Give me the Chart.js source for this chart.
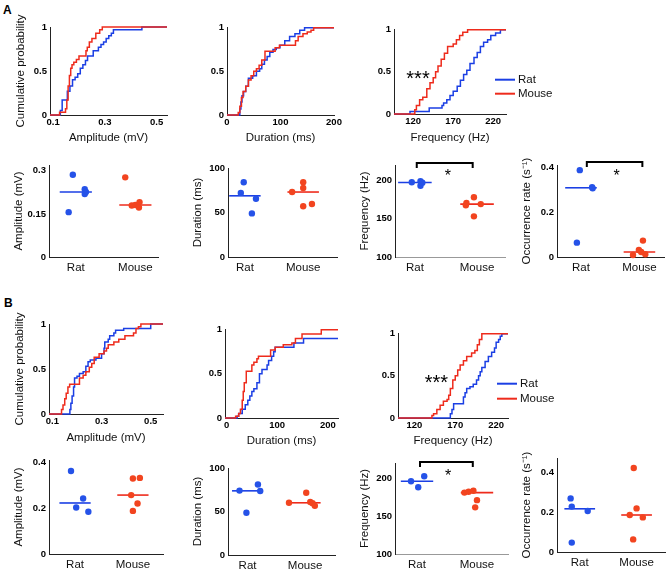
<!DOCTYPE html>
<html>
<head>
<meta charset="utf-8">
<script src="https://cdn.jsdelivr.net/npm/chart.js@4.4.0/dist/chart.umd.min.js"></script>
<style>
  body { margin: 0; background: #fff; width: 669px; height: 573px; position: relative; overflow: hidden; font-family: "Liberation Sans", Arial, sans-serif; }
  canvas { position: absolute; }
  .tag { position: absolute; font-weight: bold; font-size: 12px; }
</style>
</head>
<body>
<div class="tag" style="left:3px;top:3px">A</div>
<div class="tag" style="left:4px;top:296px">B</div>
<script>
const groups = ["Rat", "Mouse"];

// tick values
const cdfTicks = [0, 0.5, 1];
const ampTicks = [0.1, 0.3, 0.5];
const durTicks = [0, 100, 200];
const freqTicks = [120, 170, 220];
const groupTicks = [1, 2];
const ampA_ticks = [0, 0.15, 0.3];
const ampB_ticks = [0, 0.2, 0.4];
const durScTicks = [0, 50, 100];
const freqScTicks = [100, 150, 200];
const occTicks = [0, 0.2, 0.4];

// A: cumulative distributions (x = value, p = cumulative probability)
const ampA_ratX = [0.088, 0.128, 0.135, 0.155, 0.165, 0.175, 0.185, 0.195, 0.205, 0.215, 0.225, 0.233, 0.255, 0.275, 0.285, 0.295, 0.305, 0.315, 0.325, 0.333, 0.443, 0.54];
const ampA_ratP = [0, 0.05, 0.17, 0.27, 0.33, 0.4, 0.43, 0.47, 0.53, 0.57, 0.62, 0.67, 0.73, 0.77, 0.8, 0.83, 0.87, 0.9, 0.93, 0.97, 1, 1];
const ampA_mouseX = [0.088, 0.125, 0.148, 0.153, 0.158, 0.163, 0.168, 0.173, 0.18, 0.19, 0.2, 0.227, 0.232, 0.24, 0.25, 0.265, 0.28, 0.29, 0.54];
const ampA_mouseP = [0, 0.03, 0.07, 0.17, 0.33, 0.45, 0.53, 0.57, 0.6, 0.63, 0.67, 0.73, 0.77, 0.83, 0.87, 0.93, 0.97, 1, 1];

const durA_ratX = [0, 24, 26, 28, 31, 35, 40, 48, 55, 61, 65, 70, 75, 80, 86, 92, 99, 108, 117, 127, 136, 145, 200];
const durA_ratP = [0, 0.07, 0.15, 0.22, 0.27, 0.33, 0.42, 0.45, 0.5, 0.53, 0.58, 0.63, 0.67, 0.72, 0.75, 0.77, 0.8, 0.85, 0.9, 0.93, 0.97, 1, 1];
const durA_mouseX = [0, 21, 24, 27, 30, 35, 40, 45, 50, 55, 60, 65, 71, 90, 98, 128, 133, 142, 150, 157, 162, 200];
const durA_mouseP = [0, 0.03, 0.1, 0.2, 0.27, 0.33, 0.4, 0.45, 0.5, 0.53, 0.57, 0.63, 0.73, 0.77, 0.8, 0.85, 0.9, 0.93, 0.95, 0.97, 1, 1];

const freqA_ratX = [96, 116, 140, 156, 158, 162, 166, 170, 175, 179, 183, 187, 191, 196, 200, 204, 208, 213, 217, 223, 229, 236];
const freqA_ratP = [0, 0.03, 0.07, 0.1, 0.13, 0.17, 0.22, 0.27, 0.33, 0.4, 0.47, 0.52, 0.6, 0.67, 0.73, 0.8, 0.85, 0.88, 0.93, 0.96, 1, 1];
const freqA_mouseX = [96, 122, 124, 128, 132, 137, 141, 145, 148, 151, 155, 159, 163, 170, 174, 178, 182, 188, 236];
const freqA_mouseP = [0, 0.05, 0.1, 0.17, 0.2, 0.3, 0.37, 0.43, 0.5, 0.57, 0.65, 0.72, 0.8, 0.83, 0.88, 0.93, 0.97, 1, 1];

// B: cumulative distributions
const ampB_ratX = [0.086, 0.171, 0.175, 0.18, 0.186, 0.19, 0.2, 0.21, 0.225, 0.236, 0.245, 0.254, 0.277, 0.3, 0.31, 0.313, 0.327, 0.333, 0.35, 0.357, 0.39, 0.5, 0.55];
const ampB_ratP = [0, 0.05, 0.12, 0.2, 0.3, 0.4, 0.42, 0.45, 0.47, 0.53, 0.58, 0.6, 0.62, 0.67, 0.73, 0.8, 0.83, 0.87, 0.9, 0.93, 0.95, 1, 1];
const ampB_mouseX = [0.086, 0.137, 0.143, 0.15, 0.156, 0.163, 0.17, 0.21, 0.225, 0.236, 0.25, 0.26, 0.27, 0.29, 0.31, 0.32, 0.327, 0.35, 0.37, 0.395, 0.43, 0.44, 0.45, 0.46, 0.55];
const ampB_mouseP = [0, 0.05, 0.1, 0.17, 0.23, 0.3, 0.33, 0.4, 0.43, 0.47, 0.52, 0.56, 0.63, 0.67, 0.7, 0.73, 0.77, 0.8, 0.83, 0.87, 0.9, 0.95, 0.97, 1, 1];

const durB_ratX = [-3, 21, 24, 31, 37, 42, 46, 50, 54, 60, 65, 70, 80, 83, 89, 93, 96, 133, 152, 220];
const durB_ratP = [0, 0.02, 0.05, 0.1, 0.15, 0.2, 0.25, 0.3, 0.33, 0.4, 0.5, 0.55, 0.6, 0.65, 0.7, 0.75, 0.8, 0.85, 0.9, 0.9];
const durB_mouseX = [-3, 18, 24, 27.5, 31, 33, 35, 39, 50, 54, 60, 63, 87, 96, 112, 129, 136, 149, 187, 220];
const durB_mouseP = [0, 0.02, 0.05, 0.1, 0.2, 0.3, 0.4, 0.53, 0.6, 0.63, 0.67, 0.7, 0.77, 0.8, 0.83, 0.85, 0.9, 0.95, 1, 1];

const freqB_ratX = [100, 164, 166, 168, 180, 182, 184, 188, 192, 196, 198.5, 200.5, 202.5, 206.5, 210.5, 214.5, 218, 220, 223, 225, 227, 234.5];
const freqB_ratP = [0, 0.05, 0.1, 0.17, 0.25, 0.3, 0.35, 0.37, 0.4, 0.45, 0.5, 0.55, 0.6, 0.67, 0.73, 0.78, 0.83, 0.9, 0.93, 0.97, 1, 1];
const freqB_mouseX = [100, 141.5, 143.5, 147.5, 151.5, 155.5, 160, 162, 164, 167, 170, 173, 176, 180, 184, 190, 194, 197, 199.5, 202.5, 234.5];
const freqB_mouseP = [0, 0.03, 0.05, 0.1, 0.15, 0.2, 0.22, 0.27, 0.35, 0.45, 0.5, 0.57, 0.63, 0.68, 0.73, 0.77, 0.8, 0.87, 0.93, 1, 1];

// per-animal values (v) with horizontal jitter (j, around 1 = Rat, 2 = Mouse)
const ampA_ratV = [0.286, 0.156, 0.236, 0.226, 0.219];
const ampA_ratJ = [0.95, 0.88, 1.15, 1.17, 1.15];
const ampA_mouseV = [0.277, 0.179, 0.181, 0.191, 0.172];
const ampA_mouseJ = [1.83, 1.94, 2.0, 2.07, 2.06];

const durA_ratV = [84, 72, 65.5, 49];
const durA_ratJ = [0.98, 0.93, 1.19, 1.12];
const durA_mouseV = [73, 84, 77.5, 57, 59.5];
const durA_mouseJ = [1.81, 2.0, 2.0, 2.0, 2.15];

const freqA_ratV = [197.5, 199, 193, 197];
const freqA_ratJ = [0.95, 1.09, 1.09, 1.12];
const freqA_mouseV = [167.5, 170.5, 178, 169, 153];
const freqA_mouseJ = [1.82, 1.83, 1.95, 2.06, 1.95];

const occA_ratV = [0.387, 0.311, 0.306, 0.064];
const occA_ratJ = [0.98, 1.19, 1.2, 0.93];
const occA_mouseV = [0.009, 0.031, 0.073, 0.012, 0.022];
const occA_mouseJ = [1.89, 1.99, 2.06, 2.1, 2.03];

const ampB_ratV = [0.362, 0.242, 0.203, 0.184];
const ampB_ratJ = [0.93, 1.14, 1.02, 1.23];
const ampB_mouseV = [0.329, 0.332, 0.257, 0.22, 0.188];
const ampB_mouseJ = [2.0, 2.12, 1.97, 2.08, 2.0];

const durB_ratV = [74, 81, 73.5, 48.5];
const durB_ratJ = [0.86, 1.18, 1.22, 0.98];
const durB_mouseV = [60, 71.5, 61, 59.5, 56.5];
const durB_mouseJ = [1.72, 2.02, 2.09, 2.13, 2.17];

const freqB_ratV = [196, 202.5, 188];
const freqB_ratJ = [0.9, 1.12, 1.02];
const freqB_mouseV = [181, 182, 183.5, 171, 161.5];
const freqB_mouseJ = [1.79, 1.86, 1.94, 2.0, 1.97];

const occB_ratV = [0.268, 0.227, 0.205, 0.047];
const occB_ratJ = [0.84, 0.86, 1.14, 0.86];
const occB_mouseV = [0.42, 0.218, 0.185, 0.173, 0.063];
const occB_mouseJ = [1.95, 2.0, 1.88, 2.11, 1.94];

const FONT = '"Liberation Sans", Arial, Helvetica, sans-serif';
const BLUE = "#1b3fe4", RED = "#ee2b1c";
const DOT_BLUE = "#2552e8", DOT_RED = "#f2441f";

Chart.defaults.font.family = FONT;
Chart.defaults.color = "#000";

function median(a) {
  const s = [...a].sort((p, q) => p - q), n = s.length;
  return n % 2 ? s[(n - 1) / 2] : (s[n / 2 - 1] + s[n / 2]) / 2;
}
function pts(xs, ys) { return xs.map((x, i) => ({ x: x, y: ys[i] })); }

// brackets, stars and the little Rat/Mouse key
const marks = {
  id: "marks",
  afterDraw(chart, args, o) {
    const { ctx, chartArea: a } = chart;
    const x = chart.scales.x, y = chart.scales.y;
    ctx.save();
    if (o.bracket) {
      const b = o.bracket;
      const x1 = x.getPixelForValue(b.from), x2 = x.getPixelForValue(b.to);
      const yy = Math.round(y.getPixelForValue(b.at));
      ctx.strokeStyle = "#000"; ctx.lineWidth = 2;
      ctx.beginPath();
      ctx.moveTo(x1, yy + 5); ctx.lineTo(x1, yy); ctx.lineTo(x2, yy); ctx.lineTo(x2, yy + 5);
      ctx.stroke();
    }
    if (o.star) {
      const s = o.star;
      ctx.fillStyle = "#000";
      ctx.font = s.size + "px " + FONT;
      ctx.textAlign = "center"; ctx.textBaseline = "alphabetic";
      ctx.fillText(s.text, x.getPixelForValue(s.x), y.getPixelForValue(s.y) + 0.58 * s.size);
    }
    if (o.key) {
      const k = o.key;
      [BLUE, RED].forEach((c, i) => {
        const yy = a.top + k.dy + i * k.gap;
        ctx.strokeStyle = c; ctx.lineWidth = 2;
        ctx.beginPath(); ctx.moveTo(a.right + k.dx, yy); ctx.lineTo(a.right + k.dx + 20, yy); ctx.stroke();
        ctx.fillStyle = "#111"; ctx.font = "11.5px " + FONT;
        ctx.textAlign = "left"; ctx.textBaseline = "middle";
        ctx.fillText(groups[i], a.right + k.dx + 23, yy);
      });
    }
    ctx.restore();
  }
};

function place(g) {
  const L = g.ax - g.yW, T = g.pt - g.padT;
  const W = g.pr + g.padR - L, H = g.pb + g.xH - T;
  const cv = document.createElement("canvas");
  cv.width = W; cv.height = H;
  cv.style.left = L + "px"; cv.style.top = T + "px";
  cv.style.width = W + "px"; cv.style.height = H + "px";
  document.body.appendChild(cv);
  return cv;
}

function axis(horiz, min, max, ticks, o) {
  return {
    type: "linear", min: min, max: max,
    afterBuildTicks: s => { s.ticks = ticks.map(v => ({ value: v })); },
    afterFit: horiz ? s => { s.height = o.size; } : s => { s.width = o.size; },
    grid: { display: false, drawTicks: false },
    border: { display: true, color: o.line || "#222", width: 1 },
    ticks: {
      padding: o.pad, autoSkip: false, maxRotation: 0, color: o.color || "#000",
      font: o.font || { size: 9.5, weight: "bold" },
      callback: o.fmt || (v => String(v))
    },
    title: o.title
      ? { display: true, text: o.title, padding: 0, font: { size: 11.5 }, color: "#111" }
      : { display: false }
  };
}

function baseOptions(g, sx, sy, extra) {
  return {
    responsive: false, animation: false, devicePixelRatio: 1,
    layout: { padding: { top: g.padT, right: g.padR, left: 0, bottom: 0 } },
    plugins: { legend: { display: false }, tooltip: { enabled: false }, marks: extra || {} },
    scales: { x: sx, y: sy }
  };
}

function cdf(g, xr, xt, xTitle, yTitle, ratX, ratP, mouseX, mouseP, extra) {
  const cv = place(g);
  const line = (d, c) => ({ data: d, borderColor: c, borderWidth: 1.5, stepped: true, pointRadius: 0, fill: false, clip: 4 });
  new Chart(cv, {
    type: "line",
    data: { datasets: [line(pts(mouseX, mouseP), RED), line(pts(ratX, ratP), BLUE)] },
    options: baseOptions(g,
      axis(true, xr[0], xr[1], xt, { size: g.xH, pad: 2, title: xTitle }),
      axis(false, 0, 1, cdfTicks, { size: g.yW, pad: 3, title: yTitle }),
      extra),
    plugins: [marks]
  });
}

function dots(g, xr, yr, yt, yTitle, ratJ, ratV, mouseJ, mouseV, extra, xLine) {
  const cv = place(g);
  const pointSet = (j, v, c) => ({ data: pts(j, v), showLine: false, pointRadius: 3.2, pointBackgroundColor: c, pointBorderWidth: 0, clip: 6 });
  const medSet = (center, v, c) => {
    const m = median(v);
    return { data: [{ x: center - 0.27, y: m }, { x: center + 0.27, y: m }], borderColor: c, borderWidth: 1.6, pointRadius: 0, fill: false, clip: 4 };
  };
  new Chart(cv, {
    type: "line",
    data: { datasets: [
      pointSet(ratJ, ratV, DOT_BLUE), pointSet(mouseJ, mouseV, DOT_RED),
      medSet(1, ratV, BLUE), medSet(2, mouseV, RED)
    ] },
    options: baseOptions(g,
      axis(true, xr[0], xr[1], groupTicks, { size: g.xH, pad: 4, line: xLine, color: "#111",
        font: { size: 11.5 }, fmt: v => groups[v - 1] }),
      axis(false, yr[0], yr[1], yt, { size: g.yW, pad: 3, title: yTitle }),
      extra),
    plugins: [marks]
  });
}

// panel A, top row
cdf({ ax: 50, pt: 27, pr: 167, pb: 115, yW: 36, padT: 22, padR: 14, xH: 30 }, [0.088, 0.54], ampTicks,
  "Amplitude (mV)", "Cumulative probability", ampA_ratX, ampA_ratP, ampA_mouseX, ampA_mouseP);
cdf({ ax: 227, pt: 27, pr: 334, pb: 115, yW: 25, padT: 8, padR: 14, xH: 30 }, [0, 200], durTicks,
  "Duration (ms)", null, durA_ratX, durA_ratP, durA_mouseX, durA_mouseP);
cdf({ ax: 394, pt: 29, pr: 506, pb: 114, yW: 25, padT: 8, padR: 60, xH: 31 }, [96, 236], freqTicks,
  "Frequency (Hz)", null, freqA_ratX, freqA_ratP, freqA_mouseX, freqA_mouseP,
  { star: { x: 126, y: 0.48, text: "***", size: 20 }, key: { dx: -11, dy: 50, gap: 14 } });

// panel A, bottom row
dots({ ax: 49, pt: 165, pr: 158, pb: 257, yW: 37, padT: 14, padR: 8, xH: 20 }, [0.55, 2.38], [0, 0.32], ampA_ticks,
  "Amplitude (mV)", ampA_ratJ, ampA_ratV, ampA_mouseJ, ampA_mouseV);
dots({ ax: 228, pt: 168, pr: 337, pb: 257, yW: 37, padT: 14, padR: 8, xH: 20 }, [0.71, 2.58], [0, 100], durScTicks,
  "Duration (ms)", durA_ratJ, durA_ratV, durA_mouseJ, durA_mouseV);
dots({ ax: 395, pt: 165, pr: 505, pb: 257, yW: 37, padT: 14, padR: 8, xH: 20 }, [0.68, 2.45], [100, 220], freqScTicks,
  "Frequency (Hz)", freqA_ratJ, freqA_ratV, freqA_mouseJ, freqA_mouseV,
  { bracket: { from: 1.03, to: 1.93, at: 223 }, star: { x: 1.53, y: 211.5, text: "*", size: 16 } }, "#999");
dots({ ax: 557, pt: 165, pr: 665, pb: 257, yW: 37, padT: 14, padR: 3, xH: 20 }, [0.59, 2.42], [0, 0.41], occTicks,
  "Occurrence rate (s\u207B\u00B9)", occA_ratJ, occA_ratV, occA_mouseJ, occA_mouseV,
  { bracket: { from: 1.1, to: 2.05, at: 0.423 }, star: { x: 1.61, y: 0.379, text: "*", size: 16 } });

// panel B, top row
cdf({ ax: 49, pt: 324, pr: 163, pb: 414, yW: 36, padT: 22, padR: 14, xH: 31 }, [0.086, 0.55], ampTicks,
  "Amplitude (mV)", "Cumulative probability", ampB_ratX, ampB_ratP, ampB_mouseX, ampB_mouseP);
cdf({ ax: 225, pt: 329, pr: 338, pb: 418, yW: 25, padT: 8, padR: 14, xH: 30 }, [-3, 220], durTicks,
  "Duration (ms)", null, durB_ratX, durB_ratP, durB_mouseX, durB_mouseP);
cdf({ ax: 398, pt: 333, pr: 508, pb: 418, yW: 25, padT: 8, padR: 60, xH: 30 }, [100, 234.5], freqTicks,
  "Frequency (Hz)", null, freqB_ratX, freqB_ratP, freqB_mouseX, freqB_mouseP,
  { star: { x: 147, y: 0.48, text: "***", size: 20 }, key: { dx: -11, dy: 50, gap: 15 } });

// panel B, bottom row
dots({ ax: 49, pt: 460, pr: 163, pb: 554, yW: 37, padT: 14, padR: 8, xH: 19 }, [0.55, 2.52], [0, 0.41], ampB_ticks,
  "Amplitude (mV)", ampB_ratJ, ampB_ratV, ampB_mouseJ, ampB_mouseV);
dots({ ax: 228, pt: 468, pr: 335, pb: 555, yW: 37, padT: 14, padR: 8, xH: 18 }, [0.66, 2.52], [0, 100], durScTicks,
  "Duration (ms)", durB_ratJ, durB_ratV, durB_mouseJ, durB_mouseV);
dots({ ax: 395, pt: 463, pr: 508, pb: 554, yW: 37, padT: 14, padR: 8, xH: 19 }, [0.633, 2.517], [100, 220], freqScTicks,
  "Frequency (Hz)", freqB_ratJ, freqB_ratV, freqB_mouseJ, freqB_mouseV,
  { bracket: { from: 1.05, to: 1.93, at: 221.4 }, star: { x: 1.52, y: 208, text: "*", size: 16 } }, "#999");
dots({ ax: 557, pt: 458, pr: 667, pb: 552, yW: 37, padT: 14, padR: 2, xH: 21 }, [0.6, 2.5], [0, 0.47], occTicks,
  "Occurrence rate (s\u207B\u00B9)", occB_ratJ, occB_ratV, occB_mouseJ, occB_mouseV);
</script>
</body>
</html>
